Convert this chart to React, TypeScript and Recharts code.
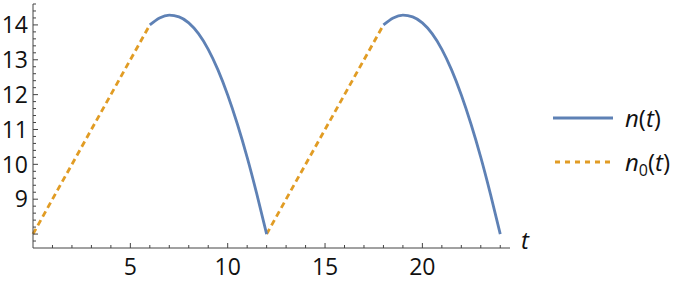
import React from "react";
import { LineChart, Line, XAxis, YAxis } from "recharts";

// n(t): first and second cycle
const nT1 = [6, 6.5, 7, 7.5, 8, 8.5, 9, 9.5, 10, 10.5, 11, 11.5, 12];
const nV1 = [14.0, 14.2, 14.28, 14.23, 14.06, 13.75, 13.3, 12.71, 11.99, 11.15, 10.2, 9.14, 8.0];
const nT2 = [18, 18.5, 19, 19.5, 20, 20.5, 21, 21.5, 22, 22.5, 23, 23.5, 24];
const nV2 = [14.0, 14.2, 14.28, 14.23, 14.06, 13.75, 13.3, 12.71, 11.99, 11.15, 10.2, 9.14, 8.0];

// n0(t): straight ramps
const n0T1 = [0, 6];
const n0V1 = [8, 14];
const n0T2 = [12, 18];
const n0V2 = [8, 14];

const xTicks = [1, 2, 3, 4, 5, 6, 7, 8, 9, 10, 11, 12, 13, 14, 15, 16, 17, 18, 19, 20, 21, 22, 23, 24];
const xLabels = [5, 10, 15, 20];
const yTicks = [
  7.8, 8, 8.2, 8.4, 8.6, 8.8, 9, 9.2, 9.4, 9.6, 9.8, 10, 10.2, 10.4, 10.6, 10.8,
  11, 11.2, 11.4, 11.6, 11.8, 12, 12.2, 12.4, 12.6, 12.8, 13, 13.2, 13.4, 13.6, 13.8,
  14, 14.2, 14.4, 14.6,
];
const yLabels = [9, 10, 11, 12, 13, 14];

const BLUE = "#5E81B5";
const ORANGE = "#E19C24";
const AXIS = "#444";
const TEXT = "#111";
const FONT = "'Open Sans', sans-serif";

const toRows = (ts: number[], vs: number[]) => ts.map((t, i) => ({ t, v: vs[i] }));

const isWhole = (v: number) => Math.abs(v - Math.round(v)) < 1e-6;

const XTick = (props: any) => {
  const { x, y, payload } = props;
  const v = payload.value;
  const major = xLabels.includes(v);
  return (
    <g>
      <line x1={x} x2={x} y1={y} y2={y - (major ? 5 : 3)} stroke={AXIS} />
      {major && (
        <text x={x} y={y + 27} textAnchor="middle" fontSize={23} fontFamily={FONT} fill={TEXT}>
          {v}
        </text>
      )}
    </g>
  );
};

const YTick = (props: any) => {
  const { x, y, payload } = props;
  const v = payload.value;
  const major = isWhole(v);
  const show = major && yLabels.includes(Math.round(v));
  return (
    <g>
      <line x1={x} x2={x + (major ? 5 : 3)} y1={y} y2={y} stroke={AXIS} />
      {show && (
        <text x={x - 5} y={y} dy="0.36em" textAnchor="end" fontSize={23} fontFamily={FONT} fill={TEXT}>
          {Math.round(v)}
        </text>
      )}
    </g>
  );
};

export default function App() {
  return (
    <div style={{ position: "absolute", left: 0, top: 0, width: 690, height: 283, background: "#fff" }}>
      <LineChart width={690} height={283} margin={{ top: 4, right: 180, bottom: 0, left: 0 }}>
        <XAxis
          type="number"
          dataKey="t"
          domain={[0, 24.5]}
          ticks={xTicks}
          interval={0}
          height={35}
          tickSize={0}
          tickMargin={0}
          tickLine={false}
          axisLine={{ stroke: AXIS }}
          tick={<XTick />}
          allowDuplicatedCategory={false}
        />
        <YAxis
          type="number"
          dataKey="v"
          domain={[7.6, 14.6]}
          ticks={yTicks}
          interval={0}
          width={33}
          tickSize={0}
          tickMargin={0}
          tickLine={false}
          axisLine={{ stroke: AXIS }}
          tick={<YTick />}
        />
        <Line data={toRows(n0T1, n0V1)} dataKey="v" stroke={ORANGE} strokeWidth={2.8} strokeDasharray="6 4" dot={false} isAnimationActive={false} />
        <Line data={toRows(n0T2, n0V2)} dataKey="v" stroke={ORANGE} strokeWidth={2.8} strokeDasharray="6 4" dot={false} isAnimationActive={false} />
        <Line data={toRows(nT1, nV1)} dataKey="v" type="monotone" stroke={BLUE} strokeWidth={2.8} dot={false} isAnimationActive={false} />
        <Line data={toRows(nT2, nV2)} dataKey="v" type="monotone" stroke={BLUE} strokeWidth={2.8} dot={false} isAnimationActive={false} />
      </LineChart>
      <svg width={690} height={283} style={{ position: "absolute", left: 0, top: 0, pointerEvents: "none" }}>
        <text x={521} y={249} fontSize={24} fontStyle="italic" fontFamily={FONT} fill={TEXT}>t</text>
        <line x1={553} x2={613} y1={118} y2={118} stroke={BLUE} strokeWidth={2.8} />
        <text x={625} y={118} dy="0.36em" fontSize={24} fontFamily={FONT} fill={TEXT}>
          <tspan fontStyle="italic">n</tspan>(<tspan fontStyle="italic">t</tspan>)
        </text>
        <line x1={555} x2={613} y1={162} y2={162} stroke={ORANGE} strokeWidth={2.8} strokeDasharray="5 5" />
        <text x={625} y={162} dy="0.36em" fontSize={24} fontFamily={FONT} fill={TEXT}>
          <tspan fontStyle="italic">n</tspan>
          <tspan fontSize={16} dy={5}>0</tspan>
          <tspan dy={-5}>(</tspan>
          <tspan fontStyle="italic">t</tspan>)
        </text>
      </svg>
    </div>
  );
}
